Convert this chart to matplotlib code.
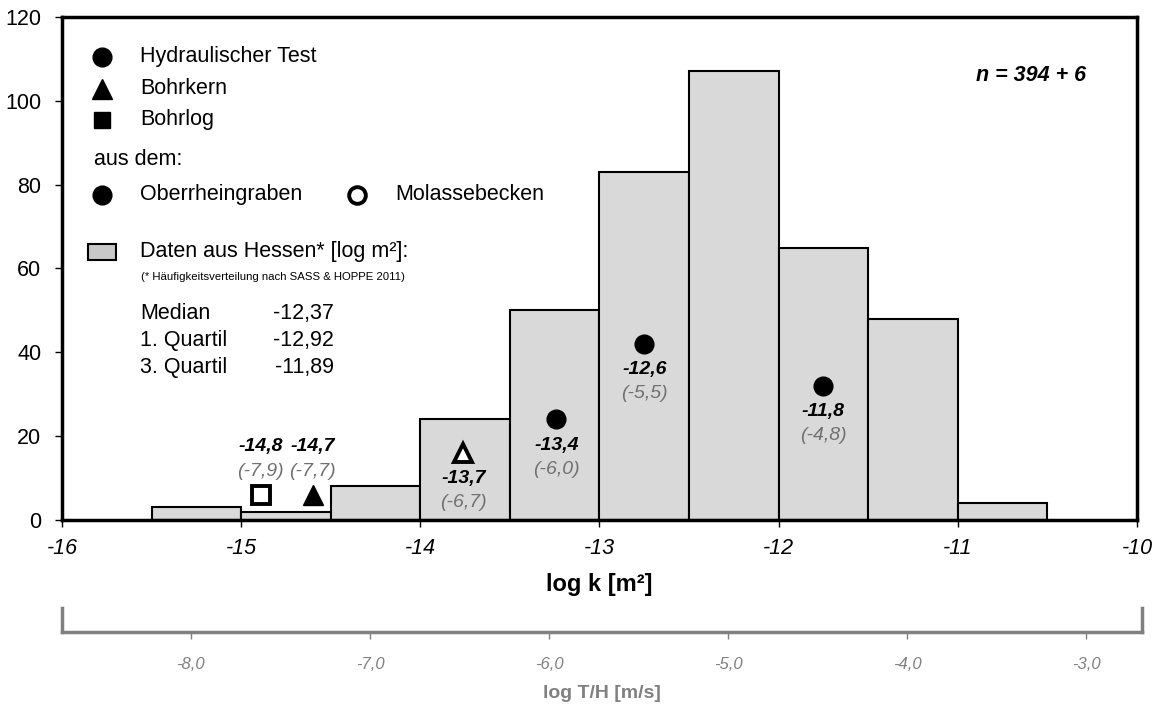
import matplotlib
matplotlib.use('Agg')
from matplotlib import pyplot as plt
from matplotlib.patches import Rectangle
from matplotlib.lines import Line2D

plt.rcParams['font.family'] = ['Liberation Sans', 'DejaVu Sans']
plt.rcParams['axes.unicode_minus'] = False

# histogram of log k values (Hessen), bin width 0.5
bin_left = [-15.5, -15.0, -14.5, -14.0, -13.5, -13.0, -12.5, -12.0, -11.5, -11.0]
bin_count = [3, 2, 8, 24, 50, 83, 107, 65, 48, 4]
bin_width = 0.5

# single measurements: plot position, label texts, marker style
pt_x = [-14.89, -14.60, -13.76, -13.24, -12.75, -11.75]
pt_y = [6, 6, 16, 24, 42, 32]
pt_k = ['-14,8', '-14,7', '-13,7', '-13,4', '-12,6', '-11,8']
pt_th = ['(-7,9)', '(-7,7)', '(-6,7)', '(-6,0)', '(-5,5)', '(-4,8)']
pt_marker = ['s', '^', '^', 'o', 'o', 'o']
pt_filled = [False, True, False, True, True, True]
pt_above = [True, True, False, False, False, False]

# log T/H scale = log k + offset
th_offset = 7.28
th_ticks = [-8.0, -7.0, -6.0, -5.0, -4.0, -3.0]

stats_names = ['Median', '1. Quartil', '3. Quartil']
stats_values = ['-12,37', '-12,92', '-11,89']

FS = 15.5
MSIZE = {'o': 13.5, '^': 14, 's': 12}
MSIZE_OPEN = {'o': 12, '^': 12.5, 's': 12.5}

fig = plt.figure(figsize=(11.59, 7.05), dpi=100)
ax = fig.add_axes([0.0535, 0.2624, 0.9275, 0.7136])

ax.bar(bin_left, bin_count, width=bin_width, align='edge',
       color='#d9d9d9', edgecolor='black', linewidth=1.5, zorder=2)

for x, y, m, f in zip(pt_x, pt_y, pt_marker, pt_filled):
    ax.plot(x, y, marker=m, markersize=MSIZE[m] if f else MSIZE_OPEN[m],
            markerfacecolor='black' if f else 'white',
            markeredgecolor='black', markeredgewidth=2.8 if not f else 1,
            linestyle='none', zorder=4)

for x, y, k, th, up in zip(pt_x, pt_y, pt_k, pt_th, pt_above):
    d1, d2 = (48, 23) if up else (-26, -50)
    ax.annotate(k, (x, y), xytext=(0, d1), textcoords='offset pixels',
                ha='center', va='center', fontsize=14, fontweight='bold',
                fontstyle='italic', color='black', zorder=5)
    ax.annotate(th, (x, y), xytext=(0, d2), textcoords='offset pixels',
                ha='center', va='center', fontsize=14, fontstyle='italic',
                color='#707070', zorder=5)

ax.set_xlim(-16, -10)
ax.set_ylim(0, 120)
ax.set_yticks(range(0, 121, 20))
ax.set_xticks(range(-16, -9))
ax.tick_params(axis='both', direction='out', length=5, width=1, labelsize=FS)
ax.tick_params(axis='y', pad=10)
ax.tick_params(axis='x', pad=8)
for lab in ax.get_xticklabels():
    lab.set_fontstyle('italic')
for s in ax.spines.values():
    s.set_linewidth(2.5)
    s.set_zorder(6)
ax.set_xlabel('log k [m²]', fontsize=17, fontweight='bold', labelpad=10)

# legend block drawn as text in axes fractions
tr = ax.transAxes
def ax_pt(px, py):
    # figure pixel -> axes fraction
    return ((px - 62) / 1075.0, (520 - py) / 503.0)

legend_rows = [('o', 'Hydraulischer Test', 57),
               ('^', 'Bohrkern', 89),
               ('s', 'Bohrlog', 120)]
for m, txt, py in legend_rows:
    mx, my = ax_pt(102, py)
    tx, _ = ax_pt(140, py)
    ax.add_line(Line2D([mx], [my], marker=m, markersize=MSIZE[m],
                       markerfacecolor='black', markeredgecolor='black',
                       transform=tr, zorder=5))
    ax.text(tx, my, txt, transform=tr, fontsize=FS, va='center', ha='left')

x0, y0 = ax_pt(94, 160)
ax.text(x0, y0, 'aus dem:', transform=tr, fontsize=FS, va='center', ha='left')

mx, my = ax_pt(102, 195)
ax.add_line(Line2D([mx], [my], marker='o', markersize=MSIZE['o'], markerfacecolor='black',
                   markeredgecolor='black', transform=tr, zorder=5))
tx, _ = ax_pt(140, 195)
ax.text(tx, my, 'Oberrheingraben', transform=tr, fontsize=FS, va='center', ha='left')
mx2, _ = ax_pt(357, 195)
ax.add_line(Line2D([mx2], [my], marker='o', markersize=MSIZE_OPEN['o'],
                   markerfacecolor='white', markeredgecolor='black',
                   markeredgewidth=2.8, transform=tr, zorder=5))
tx2, _ = ax_pt(395, 195)
ax.text(tx2, my, 'Molassebecken', transform=tr, fontsize=FS, va='center', ha='left')

rx, ry = ax_pt(88, 260)
ax.add_patch(Rectangle((rx, ry), 28 / 1075.0, 16 / 503.0, transform=tr,
                       facecolor='#c8c8c8', edgecolor='black', linewidth=1.5, zorder=5))
tx, ty = ax_pt(140, 252)
ax.text(tx, ty, 'Daten aus Hessen* [log m²]:', transform=tr, fontsize=FS,
        va='center', ha='left')
tx, ty = ax_pt(141, 277)
ax.text(tx, ty, '(* Häufigkeitsverteilung nach SASS & HOPPE 2011)', transform=tr,
        fontsize=8.2, va='center', ha='left')

for i, (nm, val) in enumerate(zip(stats_names, stats_values)):
    tx, ty = ax_pt(140, 314 + i * 27)
    vx, _ = ax_pt(334, 314)
    ax.text(tx, ty, nm, transform=tr, fontsize=FS, va='center', ha='left')
    ax.text(vx, ty, val, transform=tr, fontsize=FS, va='center', ha='right')

nx, ny = ax_pt(1086, 76)
ax.text(nx, ny, 'n = 394 + 6', transform=tr, fontsize=FS, fontweight='bold',
        fontstyle='italic', va='center', ha='right')

# second scale: log T/H as a bracket below the main axis
ax2 = fig.add_axes([0.0535, 0.1035, 0.9275 + 0.004, 0.034])
ax2.set_xlim(-16 + th_offset, -10 + th_offset + 0.03)
ax2.set_ylim(0, 1)
ax2.patch.set_visible(False)
ax2.spines['top'].set_visible(False)
for side in ['left', 'right', 'bottom']:
    ax2.spines[side].set_color('#808080')
    ax2.spines[side].set_linewidth(2.5)
ax2.set_yticks([])
ax2.set_xticks(th_ticks)
ax2.set_xticklabels([('%.1f' % v).replace('.', ',') for v in th_ticks])
ax2.tick_params(axis='x', direction='out', length=5, width=1, color='#808080',
                labelcolor='#808080', labelsize=12, pad=13)
for lab in ax2.get_xticklabels():
    lab.set_fontstyle('italic')
ax2.set_xlabel('log T/H [m/s]', fontsize=14, fontweight='bold', color='#808080',
               labelpad=9)

fig.savefig('out.png', dpi=100)
